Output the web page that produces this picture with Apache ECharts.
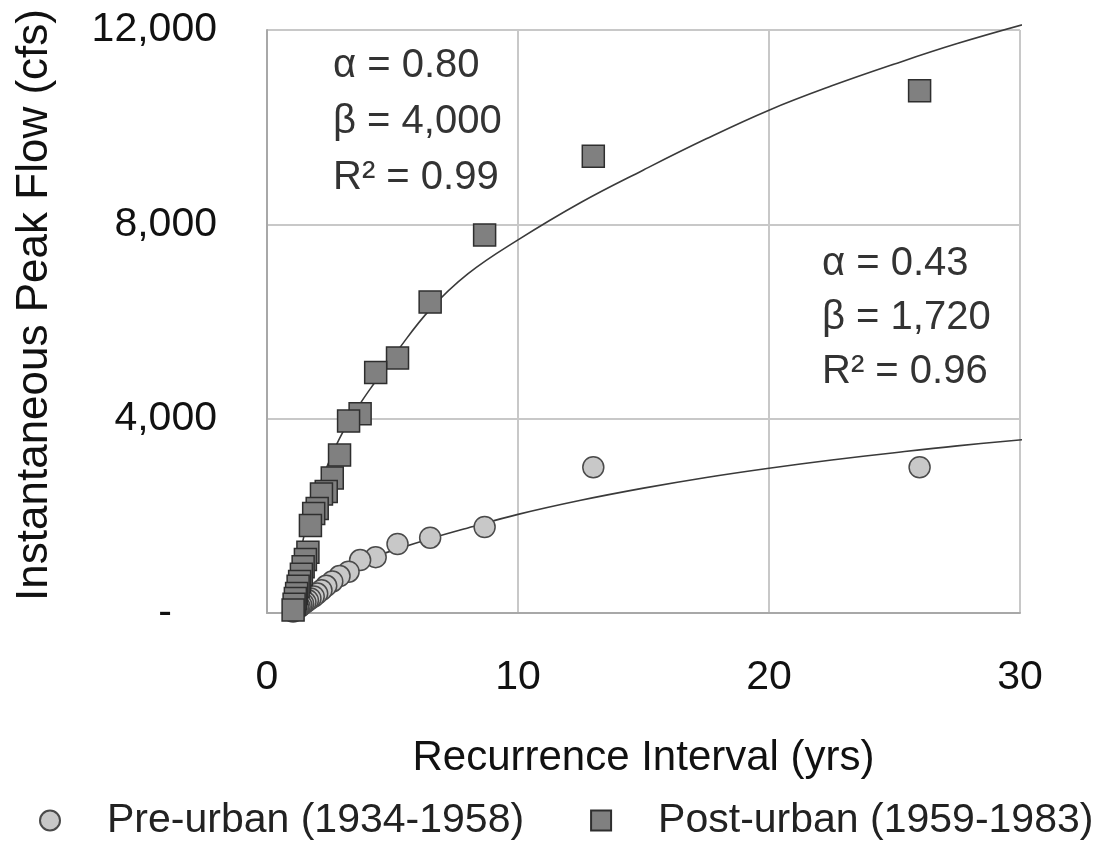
<!DOCTYPE html>
<html>
<head>
<meta charset="utf-8">
<script src="https://cdn.jsdelivr.net/npm/echarts@6/dist/echarts.min.js"></script>
<style>
html,body{margin:0;padding:0;background:#fff;}
#chart{width:1105px;height:847px;}
</style>
</head>
<body>
<div id="chart"></div>
<script>
// Recurrence interval (yrs) of each ranked flood
const recurrence = [26, 13, 8.67, 6.5, 5.2, 4.33, 3.71, 3.25, 2.89, 2.6, 2.36, 2.17, 2.0, 1.86, 1.73, 1.63, 1.53, 1.44, 1.37, 1.3, 1.24, 1.18, 1.13, 1.08, 1.04];
// Instantaneous peak flow (cfs)
const preUrban  = [3000, 3000, 1770, 1550, 1420, 1150, 1090, 850, 760, 650, 560, 470, 400, 340, 300, 260, 220, 190, 160, 130, 110, 90, 70, 50, 30];
const postUrban = [10750, 9400, 7780, 6400, 5250, 4950, 4100, 3950, 3250, 2780, 2500, 2450, 2150, 2050, 1800, 1250, 1100, 950, 800, 650, 550, 400, 300, 180, 60];
// Fitted curves
const fitT        = [1.0, 1.1, 1.3, 1.6, 2.0, 2.5, 3.0, 3.7, 4.3, 5.2, 6.5, 8.0, 10, 12.5, 15, 17.5, 20, 22.5, 25, 27.5, 30.4];
const postFitFlow = [0, 450, 1150, 1850, 2500, 3150, 3700, 4300, 4750, 5400, 6250, 6980, 7680, 8450, 9120, 9760, 10350, 10850, 11300, 11720, 12150];
const preFitFlow  = [0, 100, 260, 430, 600, 760, 890, 1040, 1160, 1320, 1530, 1750, 2030, 2320, 2570, 2790, 2980, 3150, 3300, 3440, 3580];
// Axis ticks
const xTicks = [0, 10, 20, 30];
const yTicks = [0, 4000, 8000, 12000];
const seriesNames = ['Pre-urban (1934-1958)', 'Post-urban (1959-1983)'];
const fitPost = ['\u03b1 = 0.80', '\u03b2 = 4,000', 'R\u00b2 = 0.99'];
const fitPre  = ['\u03b1 = 0.43', '\u03b2 = 1,720', 'R\u00b2 = 0.96'];

const FONT = 'Arial, "Liberation Sans", sans-serif';
const zip = (a, b) => a.map((v, i) => [v, b[i]]);

const chart = echarts.init(document.getElementById('chart'), null, {renderer: 'canvas'});
const option = {
  animation: false,
  backgroundColor: '#ffffff',
  textStyle: {fontFamily: FONT},
  grid: {left: 267, right: 85, top: 30, bottom: 234, containLabel: false},
  xAxis: {
    type: 'value', min: xTicks[0], max: xTicks[xTicks.length - 1], interval: 10,
    name: 'Recurrence Interval (yrs)', nameLocation: 'middle', nameGap: 124,
    nameTextStyle: {fontSize: 42, color: '#111', fontFamily: FONT},
    axisLine: {show: true, lineStyle: {color: '#a8a8a8', width: 2}},
    axisTick: {show: false},
    axisLabel: {fontSize: 41, color: '#111', margin: 44, fontFamily: FONT},
    splitLine: {show: true, lineStyle: {color: '#c8c8c8', width: 2}}
  },
  yAxis: {
    type: 'value', min: yTicks[0], max: yTicks[yTicks.length - 1], interval: 4000,
    name: 'Instantaneous Peak Flow (cfs)', nameLocation: 'middle', nameGap: 210,
    nameTextStyle: {fontSize: 44, color: '#111', fontFamily: FONT, padding: [0, 0, 0, 33]},
    axisLine: {show: true, lineStyle: {color: '#a8a8a8', width: 2}},
    axisTick: {show: false},
    axisLabel: {
      fontSize: 41, color: '#111', margin: 50, fontFamily: FONT,
      formatter: v => v === 0 ? '{d|-}' : v.toLocaleString('en-US'),
      rich: {d: {fontSize: 41, color: '#111', padding: [0, 45, 0, 0], fontFamily: FONT}}
    },
    splitLine: {show: true, lineStyle: {color: '#c8c8c8', width: 2}}
  },
  legend: {
    data: seriesNames,
    left: 39, top: 800, width: 1090, padding: 0,
    itemWidth: 20, itemHeight: 20, itemGap: 66,
    textStyle: {fontSize: 41, color: '#222', fontFamily: FONT, padding: [0, 0, 0, 42]}
  },
  series: [
    {
      name: 'pre-fit', type: 'line', data: zip(fitT, preFitFlow), smooth: 0.4,
      showSymbol: false, clip: false, silent: true, z: 1,
      lineStyle: {color: '#3a3a3a', width: 1.6}
    },
    {
      name: 'post-fit', type: 'line', data: zip(fitT, postFitFlow), smooth: 0.4,
      showSymbol: false, clip: false, silent: true, z: 1,
      lineStyle: {color: '#3a3a3a', width: 1.6}
    },
    {
      name: seriesNames[0], type: 'scatter', data: zip(recurrence, preUrban),
      symbol: 'circle', symbolSize: 21, z: 3,
      itemStyle: {color: '#c8c8c8', borderColor: '#4a4a4a', borderWidth: 1.5, opacity: 1}
    },
    {
      name: seriesNames[1], type: 'scatter', data: zip(recurrence, postUrban),
      symbol: 'rect', symbolSize: 22, z: 4,
      itemStyle: {color: '#808080', borderColor: '#2e2e2e', borderWidth: 1.5, opacity: 1}
    }
  ],
  graphic: [
    {
      type: 'text', left: 333, top: 38, z: 10,
      style: {text: fitPost.join('\n'), fontSize: 40, lineHeight: 56, fill: '#333', fontFamily: FONT}
    },
    {
      type: 'text', left: 822, top: 237, z: 10,
      style: {text: fitPre.join('\n'), fontSize: 40, lineHeight: 54, fill: '#333', fontFamily: FONT}
    }
  ]
};
chart.setOption(option);
</script>
</body>
</html>
